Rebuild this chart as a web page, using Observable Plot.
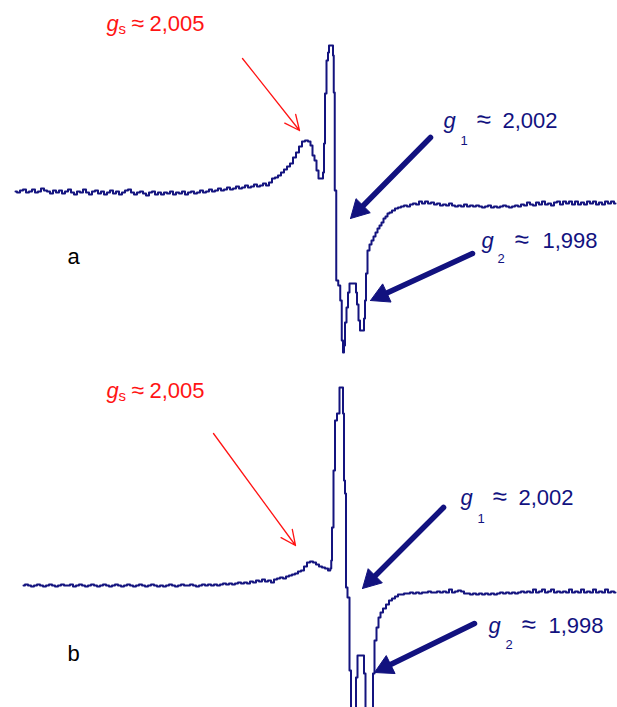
<!DOCTYPE html>
<html><head><meta charset="utf-8">
<script src="https://cdn.jsdelivr.net/npm/d3@7"></script>
<script src="https://cdn.jsdelivr.net/npm/@observablehq/plot@0.6"></script>
<style>html,body{margin:0;padding:0;background:#fff} svg{display:block}</style>
</head><body><div id="chart"></div>
<script>
// EPR spectra: [field point, signal (arb. units, baseline = 0)]
const spectrumA = [[15,0],[18,-1],[21,1],[24,2],[27,-1],[30,0],[33,2],[36,-1],[39,0],[42,3],[45,1],[48,0],[51,-2],[54,1],[57,-1],[60,1],[63,-2],[66,0],[69,2],[72,-1],[75,-3],[78,0],[81,-1],[84,2],[87,-1],[90,-3],[93,0],[96,1],[99,-2],[102,0],[105,-3],[108,-1],[111,1],[114,-2],[117,0],[120,-3],[123,-1],[126,1],[129,2],[132,-1],[135,-3],[138,-1],[141,0],[144,-2],[147,-4],[150,-1],[153,0],[156,-3],[159,-1],[162,-3],[165,-1],[168,-2],[171,0],[174,-3],[177,-1],[180,-2],[183,0],[186,-3],[189,-1],[192,0],[195,-2],[198,-1],[201,1],[204,-1],[207,0],[210,2],[213,0],[216,1],[219,3],[222,1],[225,2],[228,4],[231,2],[234,3],[237,5],[240,3],[243,4],[246,6],[249,4],[252,5],[255,7],[258,5],[261,6],[264,8],[267,6],[270,9],[273,13],[276,14],[279,16],[282,19],[285,22],[288,25],[291,28],[294,34],[297,39],[300,45],[303,50],[306,51],[309,50],[311,46],[313,36],[315,31],[317,21],[319,13],[322,13],[323,19],[324,48],[325,98],[327,131],[328,139],[329,146],[332,146],[333,136],[333.5,99],[335,1],[336.5,-89],[339,-94],[340.5,-109],[342,-149],[343,-161],[344,-154],[345,-131],[347,-116],[348,-101],[350,-92],[355,-92],[356,-101],[357,-113],[359,-129],[360,-139],[363,-139],[364,-127],[365,-109],[366,-82],[368,-59],[370,-53],[372,-49],[374,-45],[376,-41],[378,-37],[380,-34],[382,-31],[384,-27],[386,-25],[388,-22],[390,-21],[393,-19],[396,-17],[399,-16],[402,-15],[405,-14],[408,-15],[411,-13],[414,-12],[417,-13],[420,-10],[423,-12],[426,-10],[429,-12],[432,-11],[435,-13],[438,-12],[441,-14],[444,-13],[447,-14],[450,-12],[453,-14],[456,-15],[459,-14],[462,-15],[465,-13],[468,-15],[471,-14],[474,-15],[477,-14],[480,-15],[483,-16],[486,-15],[489,-14],[492,-16],[495,-15],[498,-16],[501,-15],[504,-14],[507,-15],[510,-16],[513,-15],[516,-14],[519,-15],[522,-13],[525,-14],[528,-11],[531,-13],[534,-14],[537,-11],[540,-13],[543,-10],[546,-13],[549,-12],[552,-14],[555,-11],[558,-10],[561,-13],[564,-10],[567,-12],[570,-10],[573,-13],[576,-10],[579,-13],[582,-11],[585,-13],[588,-10],[591,-12],[594,-10],[597,-13],[600,-11],[603,-13],[606,-10],[609,-12],[612,-10],[615,-12]];

const spectrumB = [[23,0],[26,1],[29,0],[32,-1],[35,0],[38,1],[41,0],[44,-1],[47,0],[50,1],[53,0],[56,-1],[59,0],[62,1],[65,0],[68,0],[71,1],[74,-1],[77,0],[80,1],[83,0],[86,-1],[89,0],[92,1],[95,0],[98,-1],[101,0],[104,1],[107,0],[110,-1],[113,0],[116,1],[119,0],[122,-1],[125,0],[128,1],[131,0],[134,-1],[137,0],[140,1],[143,0],[146,-1],[149,0],[152,1],[155,0],[158,-1],[161,0],[164,-1],[167,0],[170,1],[173,0],[176,-1],[179,0],[182,1],[185,0],[188,0],[191,1],[194,0],[197,-1],[200,0],[203,1],[206,0],[209,1],[212,0],[215,1],[218,0],[221,1],[224,2],[227,1],[230,2],[233,1],[236,2],[239,3],[242,2],[245,3],[248,2],[251,4],[254,3],[257,5],[260,4],[263,6],[266,4],[269,5],[272,3],[275,6],[278,7],[281,8],[284,7],[287,9],[290,10],[293,11],[296,12],[299,14],[302,15],[305,19],[308,23],[311,24],[314,23],[317,21],[320,19],[323,18],[326,17],[329,15],[330.5,17],[331,25],[332,58],[334,115],[335,165],[338,172],[340,198],[342,198],[343,172],[344,105],[345,92],[346,-2],[348,-12],[350,-85],[351,-125],[355,-125],[356,-92],[358,-70],[363,-70],[364,-88],[366,-125],[372,-125],[373,-88],[375,-55],[377,-42],[379,-32],[381,-27],[384,-23],[387,-19],[390,-15],[393,-13],[396,-11],[399,-9],[402,-9],[405,-8],[408,-8],[411,-7],[414,-8],[417,-7],[420,-8],[423,-7],[426,-7],[429,-6],[432,-7],[435,-7],[438,-6],[441,-7],[444,-6],[447,-7],[450,-4],[453,-7],[456,-6],[459,-5],[462,-6],[465,-8],[468,-8],[471,-9],[474,-8],[477,-9],[480,-8],[483,-9],[486,-8],[489,-9],[492,-8],[495,-9],[498,-8],[501,-7],[504,-8],[507,-7],[510,-8],[513,-7],[516,-8],[519,-7],[522,-6],[525,-7],[528,-6],[531,-7],[534,-4],[537,-7],[540,-6],[543,-4],[546,-7],[549,-6],[552,-4],[555,-7],[558,-6],[561,-7],[564,-6],[567,-7],[570,-4],[573,-7],[576,-6],[579,-7],[582,-4],[585,-7],[588,-6],[591,-7],[594,-4],[597,-7],[600,-6],[603,-7],[606,-4],[609,-7],[612,-6],[615,-7]];

const panelLabels = ["a", "b"];
const gSubscripts = ["s", "1", "2"];
const gValues = ["2,005", "2,002", "1,998"];

// annotation anchors per panel (field, signal): g symbol, subscript, ≈, value
const labelAnchorsA = [
  {gx:106, gy:161, sx:118, sy:158, ax:131, vx:149},
  {gx:443, gy:64,  sx:460, sy:47,  ax:476, vx:502},
  {gx:481, gy:-56, sx:497, sy:-71, ax:514, vx:542}
];
const labelAnchorsB = [
  {gx:106, gy:188, sx:118, sy:185, ax:131, vx:149},
  {gx:460, gy:81,  sx:477, sy:63,  ax:492, vx:518},
  {gx:488, gy:-47, sx:505, sy:-63, ax:521, vx:548}
];
// arrows: [from field, from signal, to field, to signal]
const arrowsA = [[242,133,299,61],[430,54,350,-27],[472,-62,370,-109]];
const arrowsB = [[213,152,295,40],[443,78,362,-3],[474,-38,374,-87]];
const panelLabelPos = [[67,-72],[67,-75]];

const RED = "#ff1414", NAVY = "#12127f", TRACE = "#14147f";
const FONT = "Liberation Sans, Arial, Helvetica, sans-serif";

function triangle(a, L, W) {
  const [x0,y0,x1,y1] = a;
  const dx = x1-x0, dy = y1-y0, d = Math.hypot(dx,dy), ux = dx/d, uy = dy/d;
  const bx = x1-ux*L, by = y1-uy*L;
  return {base:[bx,by], pts:[[x1,y1],[bx-uy*W, by+ux*W],[bx+uy*W, by-ux*W],[x1,y1]]};
}

function panel(spectrum, anchors, arrows, label, lpos, height, domain) {
  const colors = [RED, NAVY, NAVY];
  const marks = [];
  marks.push(Plot.line(spectrum, {x: d=>d[0], y: d=>d[1], stroke: TRACE, strokeWidth: 2, curve: "step", clip: true}));
  const r = arrows[0];
  marks.push(Plot.arrow([r], {x1: d=>d[0], y1: d=>d[1], x2: d=>d[2], y2: d=>d[3], stroke: RED, strokeWidth: 1.3, headLength: 19, headAngle: 50}));
  arrows.slice(1).forEach(a => {
    const t = triangle(a, 18, 10);
    marks.push(Plot.link([a], {x1: d=>d[0], y1: d=>d[1], x2: ()=>t.base[0], y2: ()=>t.base[1], stroke: NAVY, strokeWidth: 5.5, strokeLinecap: "round"}));
    marks.push(Plot.line(t.pts, {x: d=>d[0], y: d=>d[1], fill: NAVY, stroke: NAVY, strokeWidth: 1}));
  });
  anchors.forEach((s, i) => {
    const c = colors[i];
    marks.push(Plot.text([s], {x: "gx", y: "gy", text: ()=>"g", fontStyle: "italic", fontSize: 22, fill: c, textAnchor: "start", lineAnchor: "bottom"}));
    marks.push(Plot.text([s], {x: "sx", y: "sy", text: ()=>gSubscripts[i], fontSize: i===0 ? 15 : 13, fill: c, textAnchor: "start", lineAnchor: "bottom"}));
    marks.push(Plot.text([s], {x: "ax", y: "gy", text: ()=>"≈", fontSize: i===0 ? 23 : 26, fill: c, textAnchor: "start", lineAnchor: "bottom"}));
    marks.push(Plot.text([s], {x: "vx", y: "gy", text: ()=>gValues[i], fontSize: 22, fill: c, textAnchor: "start", lineAnchor: "bottom"}));
  });
  marks.push(Plot.text([lpos], {x: d=>d[0], y: d=>d[1], text: ()=>label, fontSize: 22, fill: "#000", textAnchor: "start", lineAnchor: "bottom"}));
  return Plot.plot({
    width: 617, height, margin: 0,
    x: {domain: [0, 617], axis: null},
    y: {domain, axis: null},
    style: {fontFamily: FONT, background: "#fff", overflow: "hidden"},
    marks
  });
}

const root = document.getElementById("chart");
root.append(panel(spectrumA, labelAnchorsA, arrowsA, panelLabels[0], panelLabelPos[0], 354, [-163, 191]));
root.append(panel(spectrumB, labelAnchorsB, arrowsB, panelLabels[1], panelLabelPos[1], 353, [-122, 231]));
</script>
</body></html>
